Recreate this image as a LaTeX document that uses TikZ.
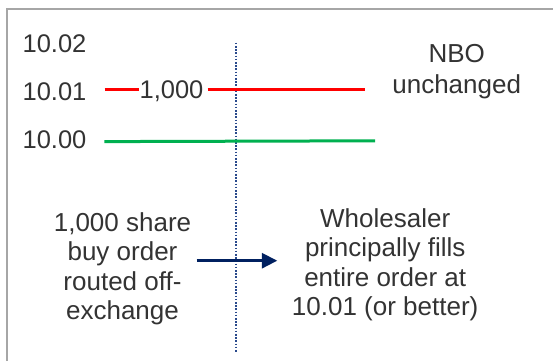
\documentclass[tikz,border=0pt]{standalone}
\usepackage{fontspec}
\setmainfont{Liberation Sans}
\usetikzlibrary{arrows.meta}
\definecolor{txt}{HTML}{333333}
\definecolor{framec}{HTML}{A6A6A6}
\definecolor{navy}{HTML}{002060}
\definecolor{dotc}{HTML}{2A4A8C}
\definecolor{nbored}{HTML}{FF0000}
\definecolor{nbbgreen}{HTML}{00B050}
\begin{document}
\begin{tikzpicture}[x=1bp,y=-1bp,
  lbl/.style={font=\fontsize{25.5bp}{29.5bp}\selectfont, text=txt, inner sep=0pt},
  para/.style={font=\fontsize{26bp}{29.5bp}\selectfont, text=txt, inner sep=0pt, align=center, anchor=north},
  redline/.style={draw=nbored, line width=3bp},
  greenline/.style={draw=nbbgreen, line width=3bp},
  framel/.style={draw=framec, line width=1.6bp},
  divider/.style={draw=dotc, line width=1.8bp, dash pattern=on 1.6bp off 1.6bp},
  flow/.style={draw=navy, line width=3bp, -{Triangle[length=15.5bp,width=15bp]}}]
\useasboundingbox (0,0) rectangle (553,361);
% frame
\coordinate (fbl) at (6.8,361);
\coordinate (ftl) at (6.8,9);
\coordinate (ftr) at (553,9);
\draw[framel] (fbl) -- (ftl) -- (ftr);
% price labels
\node[lbl, anchor=base west] (p02) at (22.4,52.7) {10.02};
\node[lbl, anchor=base west] (p01) at (22.4,100) {10.01};
\node[lbl, anchor=base west] (p00) at (22.4,148.3) {10.00};
% divider
\coordinate (dtop) at (235.7,42.7);
\coordinate (dbot) at (235.7,351.7);
\draw[divider] (dtop) -- (dbot);
% NBO line
\node[lbl, anchor=base] (qty) at (171.5,98.5) {1,000};
\coordinate (ra) at (104.5,89);
\coordinate (rb) at (365,89);
\draw[redline] (ra) -- (ra -| qty.west);
\draw[redline] ([xshift=4bp]qty.east |- rb) -- (rb);
% NBB line
\coordinate (ga) at (104.3,141.6);
\coordinate (gb) at (375,140.8);
\draw[greenline] (ga) -- (gb);
% NBO text
\node[para, font=\fontsize{26bp}{31bp}\selectfont] (nbo) at (456.7,44.6) {NBO\\unchanged};
% order texts
\node[para] (order) at (122.5,212.4) {1,000 share\\buy order\\routed off-\\exchange};
\node[para] (fill) at (385.2,208.1) {Wholesaler\\principally fills\\entire order at\\10.01 (or better)};
% arrow
\coordinate (aa) at (196.7,260.7);
\coordinate (ab) at (277.3,260.7);
\draw[flow] (aa) -- (ab);
\end{tikzpicture}
\end{document}
